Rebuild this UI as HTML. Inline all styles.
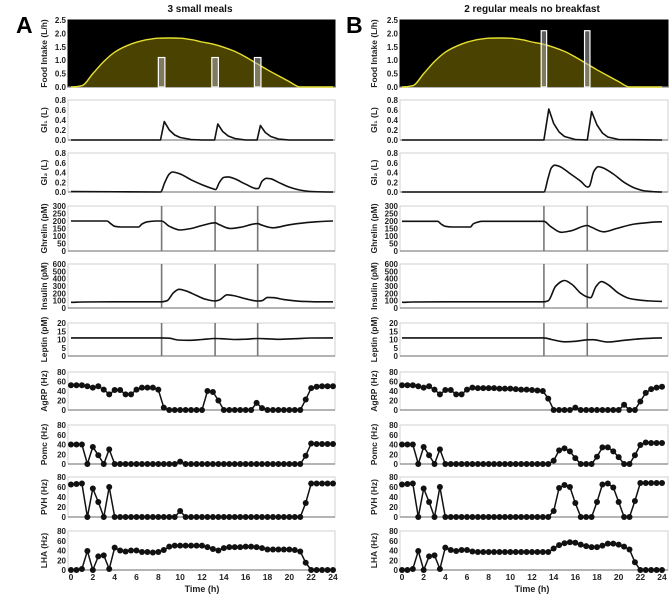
<!DOCTYPE html>
<html><head><meta charset="utf-8">
<style>
html,body{margin:0;padding:0;background:#fff;}
svg{display:block;font-family:"Liberation Sans",Arial,sans-serif;}
</style></head>
<body>
<svg id="fig" width="669" height="597" viewBox="0 0 669 597"></svg>
<script>
// ---------- DATA ----------
const hours = [0,1,2,3,4,5,6,7,8,9,10,11,12,13,14,15,16,17,18,19,20,21,22,23,24];
const circadianIntake = [0,0.05,0.5,0.95,1.3,1.52,1.67,1.77,1.82,1.83,1.82,1.77,1.68,1.6,1.48,1.33,1.12,0.88,0.64,0.42,0.2,0,0,0,0];
const mealTimesA = [8.3,13.2,17.1];
const mealSizesA = [1.1,1.1,1.1];
const mealTimesB = [13.1,17.1];
const mealSizesB = [2.1,2.1];

const gi1A = [[0,0],[8.2,0],[8.55,0.37],[9,0.2],[9.5,0.1],[10,0.05],[11,0.01],[12,0],[13.15,0],[13.45,0.32],[13.9,0.17],[14.4,0.08],[15,0.03],[16,0],[17.05,0],[17.35,0.29],[17.8,0.15],[18.3,0.07],[19,0.02],[20,0],[24,0]];
const gi1B = [[0,0],[13.1,0],[13.55,0.62],[14,0.33],[14.5,0.16],[15,0.07],[16,0.01],[17.1,0],[17.5,0.57],[18,0.3],[18.5,0.14],[19,0.06],[20,0.01],[24,0]];
const gi2A = [[0,0.01],[8.2,0],[8.6,0.2],[9.0,0.37],[9.3,0.41],[10,0.37],[11,0.25],[12,0.15],[13.1,0.06],[13.25,0.05],[13.6,0.2],[14,0.3],[14.4,0.31],[15,0.27],[16,0.16],[17.0,0.07],[17.15,0.07],[17.5,0.22],[17.9,0.28],[18.3,0.27],[19,0.2],[20,0.1],[21,0.04],[22,0.01],[24,0]];
const gi2B = [[0,0],[13.1,0],[13.5,0.3],[13.8,0.5],[14.1,0.55],[14.5,0.53],[15.5,0.38],[16.5,0.22],[17.15,0.1],[17.3,0.12],[17.7,0.42],[18.1,0.52],[18.5,0.5],[19.5,0.37],[20.5,0.2],[21.5,0.08],[22.5,0.02],[24,0]];
const ghrelinA = [[0,200],[3.3,200],[3.6,185],[4.0,165],[4.6,160],[6.2,160],[6.5,180],[7.0,195],[7.8,200],[8.3,200],[9.0,165],[10.0,140],[11,150],[12,170],[13.2,188],[13.6,175],[14.6,150],[15.5,158],[17.1,183],[17.5,172],[18.5,155],[20,175],[22,192],[24,200]];
const ghrelinB = [[0,198],[3.3,198],[3.6,180],[4.0,165],[4.6,160],[6.3,160],[6.6,182],[7.4,198],[13.1,198],[13.7,165],[14.7,125],[15.6,135],[17.1,170],[17.5,158],[18.6,128],[19.8,150],[21.5,180],[24,195]];
const insulinA = [[0,78],[1,82],[4,85],[8.3,85],[8.8,100],[9.4,210],[9.9,255],[10.5,235],[11.5,170],[12.3,120],[13.2,95],[13.6,110],[14.3,180],[15.0,165],[16,125],[17.1,95],[17.5,100],[18.0,145],[18.6,140],[19.5,115],[21,92],[22.5,85],[24,85]];
const insulinB = [[0,78],[1,82],[4,85],[13.1,85],[13.5,100],[14.2,300],[15.0,375],[15.7,320],[16.5,200],[17.1,150],[17.4,140],[17.9,290],[18.4,360],[19.0,320],[20,200],[21,130],[22.5,100],[24,90]];
const leptinA = [[0,11],[8.3,11],[9,10.8],[9.8,9.7],[10.8,9.5],[12,10],[13.2,10.6],[14,10.4],[15,10],[16,10.2],[17.1,10.6],[18,10.4],[19,10.1],[20.5,10.5],[22,10.9],[24,11]];
const leptinB = [[0,11],[13.1,11],[13.8,10],[15,8.6],[16,8.9],[17.1,9.8],[17.6,9.9],[19,8.5],[20.5,9.5],[22,10.4],[24,11]];

const agrpA = [52,52,52,50,47,50,43,33,42,42,33,33,43,47,47,47,43,5,0,0,0,0,0,0,0,40,38,20,0,0,0,0,0,0,15,4,0,0,0,0,0,0,0,22,46,49,50,50,50];
const pomcA = [40,40,40,0,35,18,0,30,0,0,0,0,0,0,0,0,0,0,0,0,5,0,0,0,0,0,0,0,0,0,0,0,0,0,0,0,0,0,0,0,0,0,0,17,42,41,41,41,41];
const pvhA = [65,66,67,0,57,30,0,60,0,0,0,0,0,0,0,0,0,0,0,0,12,0,0,0,0,0,0,0,0,0,0,0,0,0,0,0,0,0,0,0,0,0,0,28,67,67,67,67,67];
const lhaA = [0,0,2,39,0,28,30,2,46,40,38,40,40,37,37,36,37,41,48,50,50,50,50,50,50,47,43,40,45,47,47,47,48,48,47,45,42,42,42,42,42,41,38,15,0,0,0,0,0];
const agrpB = [52,52,52,50,47,50,43,33,42,42,33,33,43,47,46,46,46,46,45,45,45,44,43,43,42,41,40,24,0,0,0,0,5,0,0,0,0,0,0,0,0,11,0,0,18,36,44,47,49];
const pomcB = [40,40,40,0,35,18,0,30,0,0,0,0,0,0,0,0,0,0,0,0,0,0,0,0,0,0,0,0,7,28,32,26,12,0,0,0,15,34,34,26,14,0,0,18,39,44,43,43,43];
const pvhB = [65,66,67,0,57,30,0,60,0,0,0,0,0,0,0,0,0,0,0,0,0,0,0,0,0,0,0,0,12,58,64,60,28,0,0,0,30,65,67,59,30,0,0,32,68,68,68,68,68];
const lhaB = [0,0,2,39,0,28,30,2,46,41,39,41,41,38,37,37,37,37,37,37,37,37,37,37,37,37,37,37,44,51,55,57,56,52,49,47,47,50,54,54,52,48,42,16,0,0,0,0,0];

const xTicks = [0,2,4,6,8,10,12,14,16,18,20,22,24];
const foodTicks = [0,0.5,1,1.5,2,2.5];
const giTicks = [0,0.2,0.4,0.6,0.8];
const ghrelinTicks = [0,50,100,150,200,250,300];
const insulinTicks = [0,100,200,300,400,500,600];
const leptinTicks = [0,5,10,15,20];
const hzTicks = [0,20,40,60,80];

// ---------- DRAW ----------
const NS = "http://www.w3.org/2000/svg";
const svg = document.getElementById('fig');
function mk(tag, attrs, parent){
  const e = document.createElementNS(NS, tag);
  for (const k in attrs) e.setAttribute(k, attrs[k]);
  (parent||svg).appendChild(e);
  return e;
}
const cols = {A:{x0:71, x24:333, left:68, right:335, title:"3 small meals", tx:200, lx:47, letterX:16},
              B:{x0:402, x24:662, left:400, right:668, title:"2 regular meals no breakfast", tx:532, lx:377, letterX:346}};
const rows = {
  food:{top:20,bot:87,max:2.5,label:"Food Intake (L/h)",ticks:foodTicks,fmt:v=>v.toFixed(1)},
  gi1:{top:100,bot:140,max:0.8,label:"GI\u2081 (L)",ticks:giTicks,fmt:v=>v.toFixed(1)},
  gi2:{top:153,bot:192,max:0.8,label:"GI\u2082 (L)",ticks:giTicks,fmt:v=>v.toFixed(1)},
  ghrelin:{top:206,bot:251,max:300,label:"Ghrelin (pM)",ticks:ghrelinTicks,fmt:v=>String(v)},
  insulin:{top:264,bot:308,max:600,label:"Insulin (pM)",ticks:insulinTicks,fmt:v=>String(v)},
  leptin:{top:323,bot:356,max:20,label:"Leptin (pM)",ticks:leptinTicks,fmt:v=>String(v)},
  agrp:{top:372,bot:410,max:80,label:"AgRP (Hz)",ticks:hzTicks,fmt:v=>String(v)},
  pomc:{top:425,bot:464,max:80,label:"Pomc (Hz)",ticks:hzTicks,fmt:v=>String(v)},
  pvh:{top:477,bot:517,max:80,label:"PVH (Hz)",ticks:hzTicks,fmt:v=>String(v)},
  lha:{top:531,bot:570,max:80,label:"LHA (Hz)",ticks:hzTicks,fmt:v=>String(v)}
};
function xs(c,t){ return c.x0 + (c.x24-c.x0)*t/24; }
function ys(r,v){ return r.bot - (r.bot-r.top)*v/r.max; }
// monotone cubic (x-monotonic, no overshoot at extrema)
function smoothPath(pts){
  const n = pts.length, m = [];
  for (let i=0;i<n;i++){
    if (i===0 || i===n-1){ m.push(0); continue; }
    const d0 = (pts[i][1]-pts[i-1][1])/(pts[i][0]-pts[i-1][0]);
    const d1 = (pts[i+1][1]-pts[i][1])/(pts[i+1][0]-pts[i][0]);
    if (d0*d1 <= 0) m.push(0);
    else m.push(2/(1/d0+1/d1));
  }
  let d = 'M'+pts[0][0].toFixed(1)+','+pts[0][1].toFixed(1);
  for (let i=0;i<n-1;i++){
    const h = pts[i+1][0]-pts[i][0];
    const c1=[pts[i][0]+h/3, pts[i][1]+m[i]*h/3], c2=[pts[i+1][0]-h/3, pts[i+1][1]-m[i+1]*h/3];
    d += ` C${c1[0].toFixed(1)},${c1[1].toFixed(1)} ${c2[0].toFixed(1)},${c2[1].toFixed(1)} ${pts[i+1][0].toFixed(1)},${pts[i+1][1].toFixed(1)}`;
  }
  return d;
}

function frame(cid, rid){
  const c = cols[cid], r = rows[rid];
  const g = mk('g', {});
  
  
  const dark = rid==='food';
  const box = mk('rect', {x:c.left, y:r.top, width:c.right-c.left, height:r.bot-r.top, fill:dark?'#000':'#fff', stroke:dark?'#000':'#d0d0d0', 'stroke-width':1}, g);
  
  
  mk('line',{x1:c.left,y1:r.bot,x2:c.right,y2:r.bot,stroke:'#888','stroke-width':1.2},g);
  r.ticks.forEach(v=>{
    const t = mk('text',{x:c.left-2,y:ys(r,v)+3,'font-size':8,'font-weight':'bold','text-anchor':'end',fill:'#222'},g);
    t.textContent = r.fmt(v);
    
    
  });
  const ly = (r.top+r.bot)/2;
  const lab = mk('text',{x:c.lx,y:ly,'font-size':8.5,'font-weight':'bold','text-anchor':'middle',fill:'#222',transform:`rotate(-90 ${c.lx} ${ly})`},g);
  lab.textContent = r.label;
  
  
  return g;
}
function curve(cid, rid, pts, g, smooth){
  const c = cols[cid], r = rows[rid];
  const P = pts.map(p=>[xs(c,p[0]), ys(r,p[1])]);
  const d = smooth ? smoothPath(P) : P.map((q,i)=>(i?'L':'M')+q[0].toFixed(1)+','+q[1].toFixed(1)).join(' ');
  const p = mk('path',{d, fill:'none', stroke:'#111','stroke-width':1.6,'stroke-linejoin':'round'},g);
  
  
}
function mealLines(cid, rid, times, g){
  const c = cols[cid], r = rows[rid];
  times.forEach(t=>{
    const l = mk('line',{x1:xs(c,t),x2:xs(c,t),y1:r.top,y2:r.bot,stroke:'#777','stroke-width':1.6},g);
    
    
  });
}
function dots(cid, rid, vals, g){
  const c = cols[cid], r = rows[rid];
  const pts = vals.map((v,i)=>[xs(c,i*0.5), ys(r,v)]);
  const p = mk('path',{d:pts.map((q,i)=>(i?'L':'M')+q[0].toFixed(1)+','+q[1].toFixed(1)).join(' '),fill:'none',stroke:'#111','stroke-width':1.5},g);
  
  
  pts.forEach(q=>{
    const d = mk('circle',{cx:q[0],cy:q[1],r:3,fill:'#111'},g);
    
    
  });
}
function food(cid, times, sizes, barW){
  const c = cols[cid], r = rows.food;
  const g = frame(cid,'food');
  const pts = hours.map((h,i)=>[xs(c,h), ys(r,circadianIntake[i])]);
  const d = smoothPath(pts);
  const area = mk('path',{d:d+` L${pts[pts.length-1][0]},${r.bot} L${pts[0][0]},${r.bot} Z`,fill:'#4a4200',stroke:'none'},g);
  
  
  const ln = mk('path',{d,fill:'none',stroke:'#e6e030','stroke-width':1.4},g);
  
  
  times.forEach((t,i)=>{
    const w = (c.x24-c.x0)*barW/24;
    const b = mk('rect',{x:xs(c,t)-w/2,y:ys(r,sizes[i]),width:w,height:r.bot-ys(r,sizes[i]),fill:'rgba(170,170,170,0.55)',stroke:'#fff','stroke-width':1.2},g);
    
    
  });
}
function column(cid, d){
  const c = cols[cid];
  const tt = mk('text',{x:c.tx,y:12,'font-size':10,'font-weight':'bold','text-anchor':'middle',fill:'#111'});
  tt.textContent = c.title;
  
  
  const L = mk('text',{x:c.letterX,y:33,'font-size':23,'font-weight':'bold',fill:'#000'});
  L.textContent = cid;
  
  
  food(cid, d.meals, d.sizes, d.barW);
  let g;
  g = frame(cid,'gi1'); curve(cid,'gi1',d.gi1,g,false);
  g = frame(cid,'gi2'); curve(cid,'gi2',d.gi2,g,true);
  g = frame(cid,'ghrelin'); mealLines(cid,'ghrelin',d.meals,g); curve(cid,'ghrelin',d.ghrelin,g,true);
  g = frame(cid,'insulin'); mealLines(cid,'insulin',d.meals,g); curve(cid,'insulin',d.insulin,g,true);
  g = frame(cid,'leptin'); mealLines(cid,'leptin',d.meals,g); curve(cid,'leptin',d.leptin,g,true);
  g = frame(cid,'agrp'); dots(cid,'agrp',d.agrp,g);
  g = frame(cid,'pomc'); dots(cid,'pomc',d.pomc,g);
  g = frame(cid,'pvh'); dots(cid,'pvh',d.pvh,g);
  g = frame(cid,'lha'); dots(cid,'lha',d.lha,g);
  xTicks.forEach(t=>{
    const x = mk('text',{x:xs(c,t),y:580,'font-size':8.5,'font-weight':'bold','text-anchor':'middle',fill:'#222'});
    x.textContent = String(t);
    
    
  });
  const xt = mk('text',{x:(c.x0+c.x24)/2,y:592,'font-size':9,'font-weight':'bold','text-anchor':'middle',fill:'#222'});
  xt.textContent = 'Time (h)';
  
  
}
column('A',{meals:mealTimesA,sizes:mealSizesA,barW:0.6,gi1:gi1A,gi2:gi2A,ghrelin:ghrelinA,insulin:insulinA,leptin:leptinA,agrp:agrpA,pomc:pomcA,pvh:pvhA,lha:lhaA});
column('B',{meals:mealTimesB,sizes:mealSizesB,barW:0.5,gi1:gi1B,gi2:gi2B,ghrelin:ghrelinB,insulin:insulinB,leptin:leptinB,agrp:agrpB,pomc:pomcB,pvh:pvhB,lha:lhaB});
</script>
</body></html>
